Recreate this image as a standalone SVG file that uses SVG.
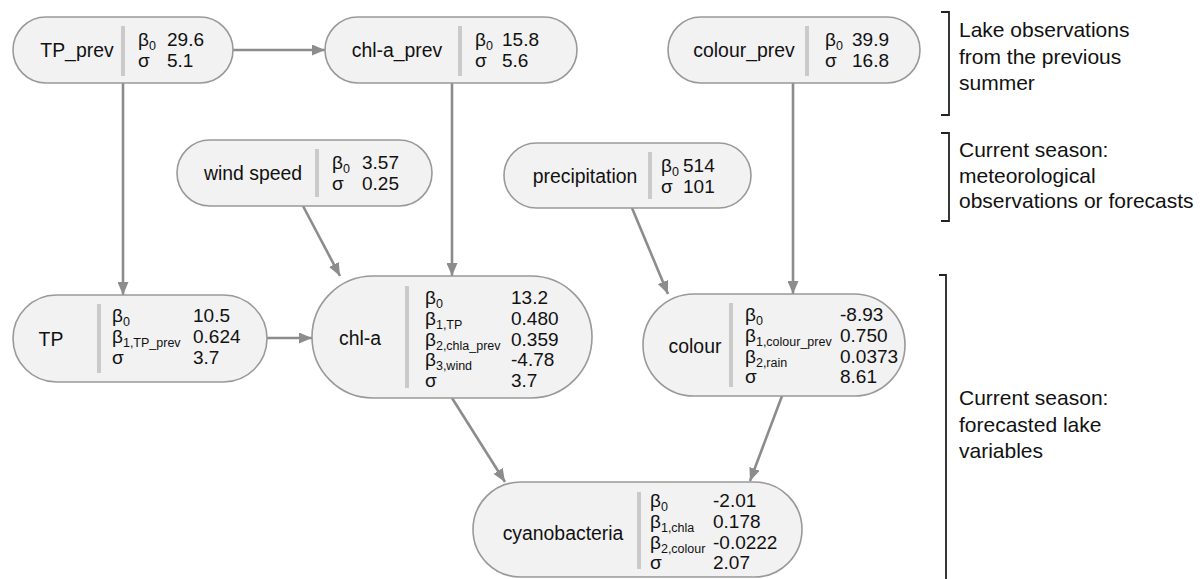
<svg xmlns="http://www.w3.org/2000/svg" width="1203" height="579" viewBox="0 0 1203 579">
<style>
text{font-family:"Liberation Sans",Arial,sans-serif;fill:#111}
.n{fill:#f2f2f2;stroke:#999;stroke-width:1.6}
.d{stroke:#cacaca;stroke-width:4}
.l{font-size:19.4px;text-anchor:middle}
.p{font-size:19px}
.s{font-size:12.5px}
.c{stroke:#8c8c8c;stroke-width:2.6;fill:none;marker-end:url(#ah)}
.b{stroke:#222;stroke-width:1.8;fill:none}
.t{font-size:21px}
</style>
<defs>
<marker id="ah" markerUnits="userSpaceOnUse" markerWidth="13" markerHeight="11" refX="13" refY="5.5" orient="auto">
<path d="M0,0 L13,5.5 L0,11 z" fill="#8c8c8c"/>
</marker>
</defs>
<g id="connectors">
<line class="c" x1="233" y1="50" x2="325" y2="50"/>
<line class="c" x1="123" y1="83" x2="123" y2="295"/>
<line class="c" x1="452" y1="83" x2="452" y2="276"/>
<line class="c" x1="793" y1="83" x2="793" y2="294"/>
<line class="c" x1="303" y1="206" x2="340" y2="276"/>
<line class="c" x1="632" y1="208" x2="668" y2="294"/>
<line class="c" x1="267" y1="338" x2="312" y2="338"/>
<line class="c" x1="452" y1="398" x2="505" y2="482"/>
<line class="c" x1="782" y1="396" x2="750" y2="481"/>
</g>
<g id="TP_prev">
<rect class="n" x="13" y="17" width="220" height="66" rx="33"/>
<text class="l" x="77" y="57">TP_prev</text>
<line class="d" x1="123" y1="26" x2="123" y2="76"/>
<text class="p" x="138" y="46">β<tspan class="s" dy="4">0</tspan></text>
<text class="p" x="138" y="67">σ</text>
<text class="p" x="167" y="46">29.6</text>
<text class="p" x="167" y="67">5.1</text>
</g>
<g id="chl-a_prev">
<rect class="n" x="325" y="17" width="252" height="66" rx="33"/>
<text class="l" x="397" y="57">chl-a_prev</text>
<line class="d" x1="460" y1="26" x2="460" y2="76"/>
<text class="p" x="475" y="46">β<tspan class="s" dy="4">0</tspan></text>
<text class="p" x="475" y="67">σ</text>
<text class="p" x="502" y="46">15.8</text>
<text class="p" x="502" y="67">5.6</text>
</g>
<g id="colour_prev">
<rect class="n" x="668" y="17" width="252" height="66" rx="33"/>
<text class="l" x="744" y="57">colour_prev</text>
<line class="d" x1="807" y1="26" x2="807" y2="76"/>
<text class="p" x="825" y="46">β<tspan class="s" dy="4">0</tspan></text>
<text class="p" x="825" y="67">σ</text>
<text class="p" x="852" y="46">39.9</text>
<text class="p" x="852" y="67">16.8</text>
</g>
<g id="wind_speed">
<rect class="n" x="177" y="140" width="255" height="66" rx="33"/>
<text class="l" x="253" y="180">wind speed</text>
<line class="d" x1="317" y1="149" x2="317" y2="197"/>
<text class="p" x="332" y="169">β<tspan class="s" dy="4">0</tspan></text>
<text class="p" x="332" y="190">σ</text>
<text class="p" x="362" y="169">3.57</text>
<text class="p" x="362" y="190">0.25</text>
</g>
<g id="precipitation">
<rect class="n" x="504" y="143" width="247" height="65" rx="32.5"/>
<text class="l" x="585" y="183">precipitation</text>
<line class="d" x1="650" y1="152" x2="650" y2="199"/>
<text class="p" x="661" y="172">β<tspan class="s" dy="4">0</tspan></text>
<text class="p" x="661" y="193">σ</text>
<text class="p" x="683" y="172">514</text>
<text class="p" x="683" y="193">101</text>
</g>
<g id="TP">
<rect class="n" x="13" y="295" width="254" height="87" rx="43.5"/>
<text class="l" x="51" y="346">TP</text>
<line class="d" x1="99" y1="304" x2="99" y2="373"/>
<text class="p" x="112" y="322">β<tspan class="s" dy="4">0</tspan></text>
<text class="p" x="112" y="343">β<tspan class="s" dy="4">1,TP_prev</tspan></text>
<text class="p" x="112" y="364">σ</text>
<text class="p" x="193" y="322">10.5</text>
<text class="p" x="193" y="343">0.624</text>
<text class="p" x="193" y="364">3.7</text>
</g>
<g id="chl-a">
<rect class="n" x="312" y="276" width="280" height="122" rx="61"/>
<text class="l" x="360" y="345">chl-a</text>
<line class="d" x1="407" y1="286" x2="407" y2="388"/>
<text class="p" x="425" y="304">β<tspan class="s" dy="4">0</tspan></text>
<text class="p" x="425" y="325">β<tspan class="s" dy="4">1,TP</tspan></text>
<text class="p" x="425" y="346">β<tspan class="s" dy="4">2,chla_prev</tspan></text>
<text class="p" x="425" y="366">β<tspan class="s" dy="4">3,wind</tspan></text>
<text class="p" x="425" y="387">σ</text>
<text class="p" x="511" y="304">13.2</text>
<text class="p" x="511" y="325">0.480</text>
<text class="p" x="511" y="346">0.359</text>
<text class="p" x="511" y="366">-4.78</text>
<text class="p" x="511" y="387">3.7</text>
</g>
<g id="colour">
<rect class="n" x="643" y="294" width="262" height="102" rx="51"/>
<text class="l" x="695" y="353">colour</text>
<line class="d" x1="731" y1="303" x2="731" y2="387"/>
<text class="p" x="745" y="321">β<tspan class="s" dy="4">0</tspan></text>
<text class="p" x="745" y="342">β<tspan class="s" dy="4">1,colour_prev</tspan></text>
<text class="p" x="745" y="363">β<tspan class="s" dy="4">2,rain</tspan></text>
<text class="p" x="745" y="383">σ</text>
<text class="p" x="840" y="321">-8.93</text>
<text class="p" x="840" y="342">0.750</text>
<text class="p" x="840" y="363">0.0373</text>
<text class="p" x="840" y="383">8.61</text>
</g>
<g id="cyanobacteria">
<rect class="n" x="473" y="482" width="329" height="95" rx="47.5"/>
<text class="l" x="563" y="540">cyanobacteria</text>
<line class="d" x1="639" y1="492" x2="639" y2="569"/>
<text class="p" x="650" y="507">β<tspan class="s" dy="4">0</tspan></text>
<text class="p" x="650" y="528">β<tspan class="s" dy="4">1,chla</tspan></text>
<text class="p" x="650" y="549">β<tspan class="s" dy="4">2,colour</tspan></text>
<text class="p" x="650" y="569">σ</text>
<text class="p" x="713" y="507">-2.01</text>
<text class="p" x="713" y="528">0.178</text>
<text class="p" x="713" y="549">-0.0222</text>
<text class="p" x="713" y="569">2.07</text>
</g>
<g id="annotations">
<path class="b" d="M941,12 H949 V115 H941"/>
<text class="t" x="959" y="37">Lake observations</text>
<text class="t" x="959" y="63.5">from the previous</text>
<text class="t" x="959" y="90">summer</text>
<path class="b" d="M941,133 H949 V221 H941"/>
<text class="t" x="959" y="157">Current season:</text>
<text class="t" x="959" y="183">meteorological</text>
<text class="t" x="959" y="208">observations or forecasts</text>
<path class="b" d="M939,275 H946 V580"/>
<text class="t" x="959" y="405">Current season:</text>
<text class="t" x="959" y="431.5">forecasted lake</text>
<text class="t" x="959" y="458">variables</text>
</g>
</svg>
